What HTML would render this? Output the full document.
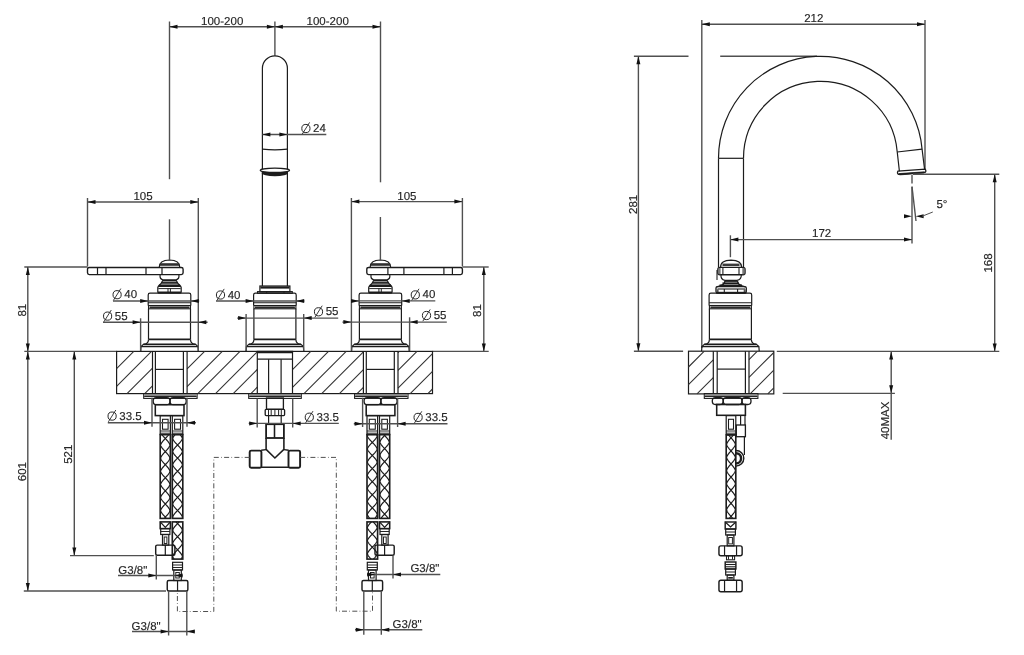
<!DOCTYPE html>
<html><head><meta charset="utf-8"><style>
html,body{margin:0;padding:0;background:#fff;}
svg{display:block;filter:grayscale(1);}
text{font-family:"Liberation Sans",sans-serif;fill:#262626;stroke:#262626;stroke-width:0.15px;}
</style></head><body>
<svg width="1024" height="655" viewBox="0 0 1024 655" text-rendering="geometricPrecision">
<rect width="1024" height="655" fill="#fff"/>
<line x1="169.5" y1="21.5" x2="169.5" y2="179.2" stroke="#505050" stroke-width="1.4"/>
<line x1="274.9" y1="21.5" x2="274.9" y2="55.8" stroke="#505050" stroke-width="1.4"/>
<line x1="380.5" y1="21.5" x2="380.5" y2="182.3" stroke="#505050" stroke-width="1.4"/>
<line x1="169.5" y1="26.7" x2="380.5" y2="26.7" stroke="#505050" stroke-width="1.4"/>
<polygon points="169.5,26.7 177.5,24.7 177.5,28.7" fill="#111"/>
<polygon points="274.9,26.7 266.9,24.7 266.9,28.7" fill="#111"/>
<polygon points="274.9,26.7 282.9,24.7 282.9,28.7" fill="#111"/>
<polygon points="380.5,26.7 372.5,24.7 372.5,28.7" fill="#111"/>
<text x="222.2" y="24.6" text-anchor="middle" font-size="11.5">100-200</text>
<text x="327.7" y="24.6" text-anchor="middle" font-size="11.5">100-200</text>
<path d="M262.4,286 L262.4,68.3 A12.5,12.5 0 0 1 287.4,68.3 L287.4,286" fill="none" stroke="#1c1c1c" stroke-width="1.2"/>
<path d="M262.4,149.2 Q274.9,150.6 287.4,149.2" fill="none" stroke="#1c1c1c" stroke-width="1.2"/>
<ellipse cx="274.9" cy="173.0" rx="13.2" ry="3.3" fill="#1c1c1c"/>
<ellipse cx="274.9" cy="170.3" rx="14.6" ry="2.2" fill="#fff" stroke="#1c1c1c" stroke-width="1.3"/>
<line x1="262.4" y1="134.5" x2="326.3" y2="134.5" stroke="#505050" stroke-width="1.4"/>
<polygon points="262.4,134.5 270.4,132.5 270.4,136.5" fill="#111"/>
<polygon points="287.4,134.5 279.4,132.5 279.4,136.5" fill="#111"/>
<circle cx="305.9" cy="128.5" r="4.1" fill="none" stroke="#262626" stroke-width="1.0"/>
<line x1="302.2" y1="134.2" x2="309.6" y2="122.4" stroke="#262626" stroke-width="0.9"/>
<text x="313.1" y="132" text-anchor="start" font-size="11.5">24</text>
<rect x="87.5" y="267.5" width="95.6" height="7.1" rx="1.8" fill="none" stroke="#1c1c1c" stroke-width="1.38"/>
<line x1="97.5" y1="267.5" x2="97.5" y2="274.6" stroke="#1c1c1c" stroke-width="1.2"/>
<line x1="106" y1="267.5" x2="106" y2="274.6" stroke="#1c1c1c" stroke-width="1.2"/>
<line x1="146" y1="267.5" x2="146" y2="274.6" stroke="#1c1c1c" stroke-width="1.2"/>
<line x1="162" y1="267.5" x2="162" y2="274.6" stroke="#1c1c1c" stroke-width="1.2"/>
<path d="M159.3,267 Q159.3,260.2 169.5,260.0 Q179.7,260.2 179.7,267" fill="none" stroke="#1c1c1c" stroke-width="1.2"/>
<rect x="159.9" y="263.2" width="19.2" height="2.6" fill="#2e2e2e"/>
<path d="M160.1,275 Q159.5,279 162.9,279.8 L176.1,279.8 Q179.5,279 178.9,275" fill="none" stroke="#1c1c1c" stroke-width="1.2"/>
<line x1="162.9" y1="280.7" x2="176.1" y2="280.7" stroke="#1c1c1c" stroke-width="1.56"/>
<path d="M162.9,280.2 Q161.7,283.5 158.1,286.4 M176.1,280.2 Q177.3,283.5 180.9,286.4" fill="none" stroke="#1c1c1c" stroke-width="1.2"/>
<line x1="161.5" y1="282.9" x2="177.5" y2="282.9" stroke="#1c1c1c" stroke-width="1.68"/>
<line x1="158.9" y1="285.3" x2="180.1" y2="285.3" stroke="#1c1c1c" stroke-width="1.8"/>
<rect x="157.8" y="286.4" width="23.4" height="6.4" rx="1" fill="none" stroke="#1c1c1c" stroke-width="1.2"/>
<line x1="158.3" y1="288.6" x2="180.7" y2="288.6" stroke="#1c1c1c" stroke-width="0.96"/>
<line x1="168" y1="288.6" x2="168" y2="292.8" stroke="#1c1c1c" stroke-width="0.96"/>
<line x1="170.4" y1="288.6" x2="170.4" y2="292.8" stroke="#1c1c1c" stroke-width="0.96"/>
<line x1="157.8" y1="292.4" x2="181.2" y2="292.4" stroke="#1c1c1c" stroke-width="1.8"/>
<path d="M148.2,305.4 L148.2,295 Q148.2,293.2 150.0,293.2 L189.0,293.2 Q190.8,293.2 190.8,295 L190.8,305.4" fill="none" stroke="#1c1c1c" stroke-width="1.2"/>
<line x1="148.2" y1="302.8" x2="190.8" y2="302.8" stroke="#1c1c1c" stroke-width="1.08"/>
<rect x="148.5" y="305.5" width="42" height="3.3" rx="0" fill="none" stroke="#1c1c1c" stroke-width="1.08"/>
<rect x="149.5" y="306.4" width="40" height="2" fill="#2a2a2a"/>
<line x1="148.5" y1="308.8" x2="148.5" y2="339.4" stroke="#1c1c1c" stroke-width="1.2"/>
<line x1="190.5" y1="308.8" x2="190.5" y2="339.4" stroke="#1c1c1c" stroke-width="1.2"/>
<path d="M148.5,339.4 Q148.5,343.8 143.5,344.4 L141.0,346.5 L140.7,351.3 M190.5,339.4 Q190.5,343.8 195.5,344.4 L198.0,346.5 L198.3,351.3" fill="none" stroke="#1c1c1c" stroke-width="1.2"/>
<line x1="148.5" y1="339.4" x2="190.5" y2="339.4" stroke="#1c1c1c" stroke-width="1.8"/>
<line x1="143.5" y1="344.4" x2="195.5" y2="344.4" stroke="#1c1c1c" stroke-width="1.68"/>
<line x1="141" y1="346.6" x2="198" y2="346.6" stroke="#1c1c1c" stroke-width="1.44"/>
<rect x="366.8" y="267.5" width="95.6" height="7.1" rx="1.8" fill="none" stroke="#1c1c1c" stroke-width="1.38"/>
<line x1="452.4" y1="267.5" x2="452.4" y2="274.6" stroke="#1c1c1c" stroke-width="1.2"/>
<line x1="443.9" y1="267.5" x2="443.9" y2="274.6" stroke="#1c1c1c" stroke-width="1.2"/>
<line x1="403.9" y1="267.5" x2="403.9" y2="274.6" stroke="#1c1c1c" stroke-width="1.2"/>
<line x1="387.9" y1="267.5" x2="387.9" y2="274.6" stroke="#1c1c1c" stroke-width="1.2"/>
<path d="M370.2,267 Q370.2,260.2 380.4,260.0 Q390.59999999999997,260.2 390.59999999999997,267" fill="none" stroke="#1c1c1c" stroke-width="1.2"/>
<rect x="370.8" y="263.2" width="19.2" height="2.6" fill="#2e2e2e"/>
<path d="M371.0,275 Q370.4,279 373.79999999999995,279.8 L387.0,279.8 Q390.4,279 389.79999999999995,275" fill="none" stroke="#1c1c1c" stroke-width="1.2"/>
<line x1="373.8" y1="280.7" x2="387" y2="280.7" stroke="#1c1c1c" stroke-width="1.56"/>
<path d="M373.79999999999995,280.2 Q372.59999999999997,283.5 369.0,286.4 M387.0,280.2 Q388.2,283.5 391.79999999999995,286.4" fill="none" stroke="#1c1c1c" stroke-width="1.2"/>
<line x1="372.4" y1="282.9" x2="388.4" y2="282.9" stroke="#1c1c1c" stroke-width="1.68"/>
<line x1="369.8" y1="285.3" x2="391" y2="285.3" stroke="#1c1c1c" stroke-width="1.8"/>
<rect x="368.7" y="286.4" width="23.4" height="6.4" rx="1" fill="none" stroke="#1c1c1c" stroke-width="1.2"/>
<line x1="369.2" y1="288.6" x2="391.6" y2="288.6" stroke="#1c1c1c" stroke-width="0.96"/>
<line x1="378.9" y1="288.6" x2="378.9" y2="292.8" stroke="#1c1c1c" stroke-width="0.96"/>
<line x1="381.3" y1="288.6" x2="381.3" y2="292.8" stroke="#1c1c1c" stroke-width="0.96"/>
<line x1="368.7" y1="292.4" x2="392.1" y2="292.4" stroke="#1c1c1c" stroke-width="1.8"/>
<path d="M359.09999999999997,305.4 L359.09999999999997,295 Q359.09999999999997,293.2 360.9,293.2 L399.9,293.2 Q401.7,293.2 401.7,295 L401.7,305.4" fill="none" stroke="#1c1c1c" stroke-width="1.2"/>
<line x1="359.1" y1="302.8" x2="401.7" y2="302.8" stroke="#1c1c1c" stroke-width="1.08"/>
<rect x="359.4" y="305.5" width="42" height="3.3" rx="0" fill="none" stroke="#1c1c1c" stroke-width="1.08"/>
<rect x="360.4" y="306.4" width="40" height="2" fill="#2a2a2a"/>
<line x1="359.4" y1="308.8" x2="359.4" y2="339.4" stroke="#1c1c1c" stroke-width="1.2"/>
<line x1="401.4" y1="308.8" x2="401.4" y2="339.4" stroke="#1c1c1c" stroke-width="1.2"/>
<path d="M359.4,339.4 Q359.4,343.8 354.4,344.4 L351.9,346.5 L351.59999999999997,351.3 M401.4,339.4 Q401.4,343.8 406.4,344.4 L408.9,346.5 L409.2,351.3" fill="none" stroke="#1c1c1c" stroke-width="1.2"/>
<line x1="359.4" y1="339.4" x2="401.4" y2="339.4" stroke="#1c1c1c" stroke-width="1.8"/>
<line x1="354.4" y1="344.4" x2="406.4" y2="344.4" stroke="#1c1c1c" stroke-width="1.68"/>
<line x1="351.9" y1="346.6" x2="408.9" y2="346.6" stroke="#1c1c1c" stroke-width="1.44"/>
<rect x="259.9" y="286" width="30" height="6" rx="0" fill="none" stroke="#1c1c1c" stroke-width="1.2"/>
<rect x="260.4" y="286.4" width="29" height="2.2" fill="#1c1c1c"/>
<rect x="257.5" y="291.6" width="34.8" height="1.7" rx="0" fill="none" stroke="#1c1c1c" stroke-width="1.08"/>
<line x1="266.7" y1="291.6" x2="266.7" y2="293.3" stroke="#1c1c1c" stroke-width="0.96"/>
<line x1="284" y1="291.6" x2="284" y2="293.3" stroke="#1c1c1c" stroke-width="0.96"/>
<path d="M253.59999999999997,305.4 L253.59999999999997,295 Q253.59999999999997,293.2 255.39999999999998,293.2 L294.4,293.2 Q296.2,293.2 296.2,295 L296.2,305.4" fill="none" stroke="#1c1c1c" stroke-width="1.2"/>
<line x1="253.6" y1="302.8" x2="296.2" y2="302.8" stroke="#1c1c1c" stroke-width="1.08"/>
<rect x="253.9" y="305.5" width="42" height="3.3" rx="0" fill="none" stroke="#1c1c1c" stroke-width="1.08"/>
<rect x="254.9" y="306.4" width="40" height="2" fill="#2a2a2a"/>
<line x1="253.9" y1="308.8" x2="253.9" y2="339.4" stroke="#1c1c1c" stroke-width="1.2"/>
<line x1="295.9" y1="308.8" x2="295.9" y2="339.4" stroke="#1c1c1c" stroke-width="1.2"/>
<path d="M253.89999999999998,339.4 Q253.89999999999998,343.8 248.89999999999998,344.4 L246.39999999999998,346.5 L246.09999999999997,351.3 M295.9,339.4 Q295.9,343.8 300.9,344.4 L303.4,346.5 L303.7,351.3" fill="none" stroke="#1c1c1c" stroke-width="1.2"/>
<line x1="253.9" y1="339.4" x2="295.9" y2="339.4" stroke="#1c1c1c" stroke-width="1.8"/>
<line x1="248.9" y1="344.4" x2="300.9" y2="344.4" stroke="#1c1c1c" stroke-width="1.68"/>
<line x1="246.4" y1="346.6" x2="303.4" y2="346.6" stroke="#1c1c1c" stroke-width="1.44"/>
<line x1="87.5" y1="198" x2="87.5" y2="266.5" stroke="#505050" stroke-width="1.4"/>
<line x1="198.3" y1="198" x2="198.3" y2="351" stroke="#505050" stroke-width="1.4"/>
<line x1="87.5" y1="202" x2="198.3" y2="202" stroke="#505050" stroke-width="1.4"/>
<polygon points="87.5,202 95.5,200 95.5,204" fill="#111"/>
<polygon points="198.3,202 190.3,200 190.3,204" fill="#111"/>
<text x="143" y="200.2" text-anchor="middle" font-size="11.5">105</text>
<line x1="351.4" y1="198" x2="351.4" y2="351" stroke="#505050" stroke-width="1.4"/>
<line x1="462.4" y1="198" x2="462.4" y2="266.5" stroke="#505050" stroke-width="1.4"/>
<line x1="351.4" y1="201.6" x2="462.4" y2="201.6" stroke="#505050" stroke-width="1.4"/>
<polygon points="351.4,201.6 359.4,199.6 359.4,203.6" fill="#111"/>
<polygon points="462.4,201.6 454.4,199.6 454.4,203.6" fill="#111"/>
<text x="406.9" y="199.8" text-anchor="middle" font-size="11.5">105</text>
<line x1="169.5" y1="219.3" x2="169.5" y2="260" stroke="#505050" stroke-width="1.4"/>
<line x1="380.4" y1="217" x2="380.4" y2="260" stroke="#505050" stroke-width="1.4"/>
<line x1="24.3" y1="267" x2="87.5" y2="267" stroke="#505050" stroke-width="1.4"/>
<line x1="27.8" y1="267" x2="27.8" y2="351.4" stroke="#505050" stroke-width="1.4"/>
<polygon points="27.8,267 25.8,275 29.8,275" fill="#111"/>
<polygon points="27.8,351.4 25.8,343.4 29.8,343.4" fill="#111"/>
<text transform="translate(26.2,310.2) rotate(-90)" text-anchor="middle" font-size="11.5">81</text>
<line x1="462.4" y1="267" x2="488.7" y2="267" stroke="#505050" stroke-width="1.4"/>
<line x1="483.8" y1="267" x2="483.8" y2="351.4" stroke="#505050" stroke-width="1.4"/>
<polygon points="483.8,267 481.8,275 485.8,275" fill="#111"/>
<polygon points="483.8,351.4 481.8,343.4 485.8,343.4" fill="#111"/>
<text transform="translate(481,310.5) rotate(-90)" text-anchor="middle" font-size="11.5">81</text>
<circle cx="117.1" cy="294.7" r="4.1" fill="none" stroke="#262626" stroke-width="1.0"/>
<line x1="113.4" y1="300.4" x2="120.8" y2="288.6" stroke="#262626" stroke-width="0.9"/>
<text x="124.3" y="298.2" text-anchor="start" font-size="11.5">40</text>
<line x1="113" y1="301" x2="199.2" y2="301" stroke="#505050" stroke-width="1.4"/>
<polygon points="148.2,301 140.2,299 140.2,303" fill="#111"/>
<polygon points="190.8,301 198.8,299 198.8,303" fill="#111"/>
<circle cx="107.6" cy="316.1" r="4.1" fill="none" stroke="#262626" stroke-width="1.0"/>
<line x1="103.9" y1="321.8" x2="111.3" y2="310" stroke="#262626" stroke-width="0.9"/>
<text x="114.8" y="319.6" text-anchor="start" font-size="11.5">55</text>
<line x1="103" y1="322.3" x2="207.6" y2="322.3" stroke="#505050" stroke-width="1.4"/>
<polygon points="140.6,322.3 132.6,320.3 132.6,324.3" fill="#111"/>
<polygon points="198.3,322.3 206.3,320.3 206.3,324.3" fill="#111"/>
<line x1="140.6" y1="318.3" x2="140.6" y2="351.3" stroke="#505050" stroke-width="1.4"/>
<circle cx="220.5" cy="295" r="4.1" fill="none" stroke="#262626" stroke-width="1.0"/>
<line x1="216.8" y1="300.7" x2="224.2" y2="288.9" stroke="#262626" stroke-width="0.9"/>
<text x="227.7" y="298.5" text-anchor="start" font-size="11.5">40</text>
<line x1="216" y1="301" x2="304.4" y2="301" stroke="#505050" stroke-width="1.4"/>
<polygon points="253.6,301 245.6,299 245.6,303" fill="#111"/>
<polygon points="296.2,301 304.2,299 304.2,303" fill="#111"/>
<circle cx="318.5" cy="311.8" r="4.1" fill="none" stroke="#262626" stroke-width="1.0"/>
<line x1="314.8" y1="317.5" x2="322.2" y2="305.7" stroke="#262626" stroke-width="0.9"/>
<text x="325.7" y="315.3" text-anchor="start" font-size="11.5">55</text>
<line x1="237.2" y1="318.1" x2="338.2" y2="318.1" stroke="#505050" stroke-width="1.4"/>
<polygon points="246.1,318.1 238.1,316.1 238.1,320.1" fill="#111"/>
<polygon points="303.7,318.1 311.7,316.1 311.7,320.1" fill="#111"/>
<line x1="246.1" y1="314" x2="246.1" y2="351.2" stroke="#505050" stroke-width="1.4"/>
<line x1="303.7" y1="314" x2="303.7" y2="351.2" stroke="#505050" stroke-width="1.4"/>
<circle cx="415.3" cy="294.9" r="4.1" fill="none" stroke="#262626" stroke-width="1.0"/>
<line x1="411.6" y1="300.6" x2="419" y2="288.8" stroke="#262626" stroke-width="0.9"/>
<text x="422.5" y="298.4" text-anchor="start" font-size="11.5">40</text>
<line x1="351.4" y1="300.9" x2="435.3" y2="300.9" stroke="#505050" stroke-width="1.4"/>
<polygon points="359.1,300.9 351.1,298.9 351.1,302.9" fill="#111"/>
<polygon points="401.7,300.9 409.7,298.9 409.7,302.9" fill="#111"/>
<circle cx="426.5" cy="315.5" r="4.1" fill="none" stroke="#262626" stroke-width="1.0"/>
<line x1="422.8" y1="321.2" x2="430.2" y2="309.4" stroke="#262626" stroke-width="0.9"/>
<text x="433.7" y="319" text-anchor="start" font-size="11.5">55</text>
<line x1="342.4" y1="322.1" x2="446.8" y2="322.1" stroke="#505050" stroke-width="1.4"/>
<polygon points="351.4,322.1 343.4,320.1 343.4,324.1" fill="#111"/>
<polygon points="409.6,322.1 417.6,320.1 417.6,324.1" fill="#111"/>
<line x1="409.6" y1="317.3" x2="409.6" y2="351.2" stroke="#505050" stroke-width="1.4"/>
<line x1="24.3" y1="351.4" x2="116.6" y2="351.4" stroke="#505050" stroke-width="1.4"/>
<line x1="432.5" y1="351.4" x2="488.7" y2="351.4" stroke="#505050" stroke-width="1.4"/>
<rect x="116.6" y="351.4" width="315.9" height="42.2" rx="0" fill="none" stroke="#1c1c1c" stroke-width="1.2"/>
<path d="M116.6,368.6L133.8,351.4M116.6,386.3L151.5,351.4M127,393.6L152.5,368.1M144.7,393.6L152.5,385.8M187.1,368.9L204.6,351.4M187.1,386.6L222.3,351.4M197.8,393.6L240,351.4M215.5,393.6L257.3,351.8M233.2,393.6L257.3,369.5M250.9,393.6L257.3,387.2M292.5,352L293.1,351.4M292.5,369.7L310.8,351.4M292.5,387.4L328.5,351.4M304,393.6L346.2,351.4M321.7,393.6L363.4,351.9M339.4,393.6L363.4,369.6M357.1,393.6L363.4,387.3M398,352.7L399.3,351.4M398,370.4L417,351.4M398,388.1L432.5,353.6M410.2,393.6L432.5,371.3M427.9,393.6L432.5,389" fill="none" stroke="#333" stroke-width="1.08"/>
<line x1="152.5" y1="351.4" x2="152.5" y2="393.6" stroke="#1c1c1c" stroke-width="1.2"/>
<line x1="155.4" y1="351.4" x2="155.4" y2="393.6" stroke="#1c1c1c" stroke-width="1.2"/>
<line x1="183.4" y1="351.4" x2="183.4" y2="393.6" stroke="#1c1c1c" stroke-width="1.2"/>
<line x1="187.1" y1="351.4" x2="187.1" y2="393.6" stroke="#1c1c1c" stroke-width="1.2"/>
<line x1="155.4" y1="369.4" x2="183.4" y2="369.4" stroke="#1c1c1c" stroke-width="1.2"/>
<line x1="363.4" y1="351.4" x2="363.4" y2="393.6" stroke="#1c1c1c" stroke-width="1.2"/>
<line x1="366.3" y1="351.4" x2="366.3" y2="393.6" stroke="#1c1c1c" stroke-width="1.2"/>
<line x1="394.3" y1="351.4" x2="394.3" y2="393.6" stroke="#1c1c1c" stroke-width="1.2"/>
<line x1="398" y1="351.4" x2="398" y2="393.6" stroke="#1c1c1c" stroke-width="1.2"/>
<line x1="366.3" y1="369.4" x2="394.3" y2="369.4" stroke="#1c1c1c" stroke-width="1.2"/>
<rect x="257.3" y="351.4" width="35.2" height="42.2" rx="0" fill="none" stroke="#1c1c1c" stroke-width="1.2"/>
<line x1="257.3" y1="359.2" x2="292.5" y2="359.2" stroke="#1c1c1c" stroke-width="1.2"/>
<line x1="257.3" y1="352.4" x2="292.5" y2="352.4" stroke="#1c1c1c" stroke-width="1.8"/>
<line x1="268.6" y1="359.2" x2="268.6" y2="393.6" stroke="#1c1c1c" stroke-width="1.2"/>
<line x1="281.1" y1="359.2" x2="281.1" y2="393.6" stroke="#1c1c1c" stroke-width="1.2"/>
<rect x="143.7" y="393.6" width="53.4" height="4.8" rx="0" fill="none" stroke="#1c1c1c" stroke-width="1.08"/>
<rect x="144.2" y="394" width="52.4" height="2" fill="#888"/>
<line x1="144.2" y1="396.5" x2="196.6" y2="396.5" stroke="#1c1c1c" stroke-width="0.96"/>
<rect x="153.2" y="397.6" width="16.8" height="7.1" rx="3.2" fill="none" stroke="#1c1c1c" stroke-width="1.32"/>
<rect x="170" y="397.6" width="16.2" height="7.1" rx="3.2" fill="none" stroke="#1c1c1c" stroke-width="1.32"/>
<rect x="155.3" y="404.7" width="28.7" height="10.9" rx="0" fill="none" stroke="#1c1c1c" stroke-width="1.56"/>
<rect x="160.2" y="415.6" width="10.2" height="19" rx="0" fill="none" stroke="#1c1c1c" stroke-width="1.2"/>
<rect x="162.5" y="419.3" width="5.6" height="9.9" rx="0" fill="none" stroke="#1c1c1c" stroke-width="1.08"/>
<line x1="160.2" y1="431" x2="170.4" y2="431" stroke="#1c1c1c" stroke-width="0.96"/>
<line x1="160.2" y1="433.2" x2="170.4" y2="433.2" stroke="#1c1c1c" stroke-width="0.96"/>
<rect x="172.3" y="415.6" width="10.5" height="19" rx="0" fill="none" stroke="#1c1c1c" stroke-width="1.2"/>
<rect x="174.6" y="419.3" width="5.9" height="9.9" rx="0" fill="none" stroke="#1c1c1c" stroke-width="1.08"/>
<line x1="172.3" y1="431" x2="182.8" y2="431" stroke="#1c1c1c" stroke-width="0.96"/>
<line x1="172.3" y1="433.2" x2="182.8" y2="433.2" stroke="#1c1c1c" stroke-width="0.96"/>
<path d="M161.94,434.6 L162.38,435.2 L162.86,435.8 L163.37,436.4 L163.91,437 L164.46,437.6 L165.02,438.2 L165.58,438.8 L166.14,439.4 L166.69,440 L167.23,440.6 L167.74,441.2 L168.22,441.8 L168.66,442.4 L169.06,443 L169.43,443.6 L169.74,444.2 L170,444.8 L169.96,445.4 L169.69,446 L169.37,446.6 L169,447.2 L168.59,447.8 L168.14,448.4 L167.65,449 L167.14,449.6 L166.6,450.2 L166.05,450.8 L165.49,451.4 L164.92,452 L164.36,452.6 L163.82,453.2 L163.29,453.8 L162.78,454.4 L162.31,455 L161.87,455.6 L161.47,456.2 L161.12,456.8 L160.81,457.4 L160.56,458 L160.68,458.6 L160.96,459.2 L161.29,459.8 L161.67,460.4 L162.08,461 L162.54,461.6 L163.03,462.2 L163.55,462.8 L164.09,463.4 L164.64,464 L165.21,464.6 L165.77,465.2 L166.33,465.8 L166.87,466.4 L167.4,467 L167.9,467.6 L168.37,468.2 L168.8,468.8 L169.19,469.4 L169.53,470 L169.83,470.6 L170.08,471.2 L169.88,471.8 L169.59,472.4 L169.25,473 L168.87,473.6 L168.44,474.2 L167.98,474.8 L167.49,475.4 L166.96,476 L166.42,476.6 L165.86,477.2 L165.3,477.8 L164.74,478.4 L164.18,479 L163.64,479.6 L163.11,480.2 L162.62,480.8 L162.16,481.4 L161.73,482 L161.35,482.6 L161.01,483.2 L160.72,483.8 L160.52,484.4 L160.77,485 L161.07,485.6 L161.41,486.2 L161.8,486.8 L162.23,487.4 L162.7,488 L163.2,488.6 L163.73,489.2 L164.27,489.8 L164.83,490.4 L165.39,491 L165.96,491.6 L166.51,492.2 L167.05,492.8 L167.57,493.4 L168.06,494 L168.52,494.6 L168.93,495.2 L169.31,495.8 L169.64,496.4 L169.92,497 L170.04,497.6 L169.79,498.2 L169.48,498.8 L169.13,499.4 L168.73,500 L168.29,500.6 L167.82,501.2 L167.31,501.8 L166.78,502.4 L166.24,503 L165.68,503.6 L165.11,504.2 L164.55,504.8 L164,505.4 L163.46,506 L162.95,506.6 L162.46,507.2 L162.01,507.8 L161.6,508.4 L161.23,509 L160.91,509.6 L160.64,510.2 L160.6,510.8 L160.86,511.4 L161.17,512 L161.54,512.6 L161.94,513.2 L162.38,513.8 L162.86,514.4 L163.37,515 L163.91,515.6 L164.46,516.2 L165.02,516.8 L165.58,517.4 L166.14,518 M168.66,434.6 L168.22,435.2 L167.74,435.8 L167.23,436.4 L166.69,437 L166.14,437.6 L165.58,438.2 L165.02,438.8 L164.46,439.4 L163.91,440 L163.37,440.6 L162.86,441.2 L162.38,441.8 L161.94,442.4 L161.54,443 L161.17,443.6 L160.86,444.2 L160.6,444.8 L160.64,445.4 L160.91,446 L161.23,446.6 L161.6,447.2 L162.01,447.8 L162.46,448.4 L162.95,449 L163.46,449.6 L164,450.2 L164.55,450.8 L165.11,451.4 L165.68,452 L166.24,452.6 L166.78,453.2 L167.31,453.8 L167.82,454.4 L168.29,455 L168.73,455.6 L169.13,456.2 L169.48,456.8 L169.79,457.4 L170.04,458 L169.92,458.6 L169.64,459.2 L169.31,459.8 L168.93,460.4 L168.52,461 L168.06,461.6 L167.57,462.2 L167.05,462.8 L166.51,463.4 L165.96,464 L165.39,464.6 L164.83,465.2 L164.27,465.8 L163.73,466.4 L163.2,467 L162.7,467.6 L162.23,468.2 L161.8,468.8 L161.41,469.4 L161.07,470 L160.77,470.6 L160.52,471.2 L160.72,471.8 L161.01,472.4 L161.35,473 L161.73,473.6 L162.16,474.2 L162.62,474.8 L163.11,475.4 L163.64,476 L164.18,476.6 L164.74,477.2 L165.3,477.8 L165.86,478.4 L166.42,479 L166.96,479.6 L167.49,480.2 L167.98,480.8 L168.44,481.4 L168.87,482 L169.25,482.6 L169.59,483.2 L169.88,483.8 L170.08,484.4 L169.83,485 L169.53,485.6 L169.19,486.2 L168.8,486.8 L168.37,487.4 L167.9,488 L167.4,488.6 L166.87,489.2 L166.33,489.8 L165.77,490.4 L165.21,491 L164.64,491.6 L164.09,492.2 L163.55,492.8 L163.03,493.4 L162.54,494 L162.08,494.6 L161.67,495.2 L161.29,495.8 L160.96,496.4 L160.68,497 L160.56,497.6 L160.81,498.2 L161.12,498.8 L161.47,499.4 L161.87,500 L162.31,500.6 L162.78,501.2 L163.29,501.8 L163.82,502.4 L164.36,503 L164.92,503.6 L165.49,504.2 L166.05,504.8 L166.6,505.4 L167.14,506 L167.65,506.6 L168.14,507.2 L168.59,507.8 L169,508.4 L169.37,509 L169.69,509.6 L169.96,510.2 L170,510.8 L169.74,511.4 L169.43,512 L169.06,512.6 L168.66,513.2 L168.22,513.8 L167.74,514.4 L167.23,515 L166.69,515.6 L166.14,516.2 L165.58,516.8 L165.02,517.4 L164.46,518" fill="none" stroke="#1a1a1a" stroke-width="1.2"/>
<rect x="160.2" y="434.6" width="10.2" height="83.8" rx="0" fill="none" stroke="#1c1c1c" stroke-width="1.62"/>
<path d="M180.06,434.6 L180.56,435.2 L181.02,435.8 L181.43,436.4 L181.8,437 L182.13,437.6 L182.4,438.2 L182.36,438.8 L182.08,439.4 L181.75,440 L181.37,440.6 L180.94,441.2 L180.48,441.8 L179.98,442.4 L179.45,443 L178.89,443.6 L178.32,444.2 L177.74,444.8 L177.16,445.4 L176.58,446 L176.02,446.6 L175.47,447.2 L174.95,447.8 L174.46,448.4 L174.01,449 L173.6,449.6 L173.24,450.2 L172.92,450.8 L172.66,451.4 L172.78,452 L173.07,452.6 L173.41,453.2 L173.8,453.8 L174.23,454.4 L174.7,455 L175.21,455.6 L175.74,456.2 L176.3,456.8 L176.87,457.4 L177.45,458 L178.03,458.6 L178.61,459.2 L179.17,459.8 L179.72,460.4 L180.23,461 L180.71,461.6 L181.16,462.2 L181.56,462.8 L181.92,463.4 L182.22,464 L182.48,464.6 L182.27,465.2 L181.97,465.8 L181.62,466.4 L181.23,467 L180.79,467.6 L180.31,468.2 L179.8,468.8 L179.27,469.4 L178.71,470 L178.13,470.6 L177.55,471.2 L176.97,471.8 L176.39,472.4 L175.83,473 L175.3,473.6 L174.79,474.2 L174.31,474.8 L173.87,475.4 L173.48,476 L173.13,476.6 L172.83,477.2 L172.62,477.8 L172.88,478.4 L173.18,479 L173.54,479.6 L173.94,480.2 L174.39,480.8 L174.87,481.4 L175.38,482 L175.93,482.6 L176.49,483.2 L177.07,483.8 L177.65,484.4 L178.23,485 L178.8,485.6 L179.36,486.2 L179.89,486.8 L180.4,487.4 L180.87,488 L181.3,488.6 L181.69,489.2 L182.03,489.8 L182.32,490.4 L182.44,491 L182.18,491.6 L181.86,492.2 L181.5,492.8 L181.09,493.4 L180.64,494 L180.15,494.6 L179.63,495.2 L179.08,495.8 L178.52,496.4 L177.94,497 L177.36,497.6 L176.78,498.2 L176.21,498.8 L175.65,499.4 L175.12,500 L174.62,500.6 L174.16,501.2 L173.73,501.8 L173.35,502.4 L173.02,503 L172.74,503.6 L172.7,504.2 L172.97,504.8 L173.3,505.4 L173.67,506 L174.08,506.6 L174.54,507.2 L175.04,507.8 L175.56,508.4 L176.11,509 L176.68,509.6 L177.26,510.2 L177.84,510.8 L178.42,511.4 L178.99,512 L179.54,512.6 L180.06,513.2 L180.56,513.8 L181.02,514.4 L181.43,515 L181.8,515.6 L182.13,516.2 L182.4,516.8 L182.36,517.4 L182.08,518 M175.04,434.6 L174.54,435.2 L174.08,435.8 L173.67,436.4 L173.3,437 L172.97,437.6 L172.7,438.2 L172.74,438.8 L173.02,439.4 L173.35,440 L173.73,440.6 L174.16,441.2 L174.62,441.8 L175.12,442.4 L175.65,443 L176.21,443.6 L176.78,444.2 L177.36,444.8 L177.94,445.4 L178.52,446 L179.08,446.6 L179.63,447.2 L180.15,447.8 L180.64,448.4 L181.09,449 L181.5,449.6 L181.86,450.2 L182.18,450.8 L182.44,451.4 L182.32,452 L182.03,452.6 L181.69,453.2 L181.3,453.8 L180.87,454.4 L180.4,455 L179.89,455.6 L179.36,456.2 L178.8,456.8 L178.23,457.4 L177.65,458 L177.07,458.6 L176.49,459.2 L175.93,459.8 L175.38,460.4 L174.87,461 L174.39,461.6 L173.94,462.2 L173.54,462.8 L173.18,463.4 L172.88,464 L172.62,464.6 L172.83,465.2 L173.13,465.8 L173.48,466.4 L173.87,467 L174.31,467.6 L174.79,468.2 L175.3,468.8 L175.83,469.4 L176.39,470 L176.97,470.6 L177.55,471.2 L178.13,471.8 L178.71,472.4 L179.27,473 L179.8,473.6 L180.31,474.2 L180.79,474.8 L181.23,475.4 L181.62,476 L181.97,476.6 L182.27,477.2 L182.48,477.8 L182.22,478.4 L181.92,479 L181.56,479.6 L181.16,480.2 L180.71,480.8 L180.23,481.4 L179.72,482 L179.17,482.6 L178.61,483.2 L178.03,483.8 L177.45,484.4 L176.87,485 L176.3,485.6 L175.74,486.2 L175.21,486.8 L174.7,487.4 L174.23,488 L173.8,488.6 L173.41,489.2 L173.07,489.8 L172.78,490.4 L172.66,491 L172.92,491.6 L173.24,492.2 L173.6,492.8 L174.01,493.4 L174.46,494 L174.95,494.6 L175.47,495.2 L176.02,495.8 L176.58,496.4 L177.16,497 L177.74,497.6 L178.32,498.2 L178.89,498.8 L179.45,499.4 L179.98,500 L180.48,500.6 L180.94,501.2 L181.37,501.8 L181.75,502.4 L182.08,503 L182.36,503.6 L182.4,504.2 L182.13,504.8 L181.8,505.4 L181.43,506 L181.02,506.6 L180.56,507.2 L180.06,507.8 L179.54,508.4 L178.99,509 L178.42,509.6 L177.84,510.2 L177.26,510.8 L176.68,511.4 L176.11,512 L175.56,512.6 L175.04,513.2 L174.54,513.8 L174.08,514.4 L173.67,515 L173.3,515.6 L172.97,516.2 L172.7,516.8 L172.74,517.4 L173.02,518" fill="none" stroke="#1a1a1a" stroke-width="1.2"/>
<rect x="172.3" y="434.6" width="10.5" height="83.8" rx="0" fill="none" stroke="#1c1c1c" stroke-width="1.62"/>
<rect x="160.2" y="521.9" width="10.2" height="6.7" rx="0" fill="none" stroke="#1c1c1c" stroke-width="1.56"/>
<path d="M160.2,521.9 L165.3,527.4 L170.4,521.9" fill="none" stroke="#1c1c1c" stroke-width="1.32"/>
<rect x="160.7" y="528.6" width="9.2" height="5.9" rx="0" fill="none" stroke="#1c1c1c" stroke-width="1.2"/>
<line x1="160.7" y1="531.5" x2="169.9" y2="531.5" stroke="#1c1c1c" stroke-width="0.96"/>
<rect x="162.5" y="534.5" width="6.3" height="10.6" rx="0" fill="none" stroke="#1c1c1c" stroke-width="1.2"/>
<rect x="164.2" y="537" width="2.7" height="6.5" rx="0" fill="none" stroke="#1c1c1c" stroke-width="0.96"/>
<rect x="155.7" y="545.1" width="19.2" height="10.2" rx="1.5" fill="none" stroke="#1c1c1c" stroke-width="1.44"/>
<line x1="165.3" y1="545.1" x2="165.3" y2="555.3" stroke="#1c1c1c" stroke-width="1.2"/>
<path d="M179.17,521.9 L178.61,522.5 L178.03,523.1 L177.45,523.7 L176.87,524.3 L176.3,524.9 L175.74,525.5 L175.21,526.1 L174.7,526.7 L174.23,527.3 L173.8,527.9 L173.41,528.5 L173.07,529.1 L172.78,529.7 L172.66,530.3 L172.92,530.9 L173.24,531.5 L173.6,532.1 L174.01,532.7 L174.46,533.3 L174.95,533.9 L175.47,534.5 L176.02,535.1 L176.58,535.7 L177.16,536.3 L177.74,536.9 L178.32,537.5 L178.89,538.1 L179.45,538.7 L179.98,539.3 L180.48,539.9 L180.94,540.5 L181.37,541.1 L181.75,541.7 L182.08,542.3 L182.36,542.9 L182.4,543.5 L182.13,544.1 L181.8,544.7 L181.43,545.3 L181.02,545.9 L180.56,546.5 L180.06,547.1 L179.54,547.7 L178.99,548.3 L178.42,548.9 L177.84,549.5 L177.26,550.1 L176.68,550.7 L176.11,551.3 L175.56,551.9 L175.04,552.5 L174.54,553.1 L174.08,553.7 L173.67,554.3 L173.3,554.9 L172.97,555.5 L172.7,556.1 L172.74,556.7 L173.02,557.3 L173.35,557.9 L173.73,558.5 L174.16,559.1 M175.93,521.9 L176.49,522.5 L177.07,523.1 L177.65,523.7 L178.23,524.3 L178.8,524.9 L179.36,525.5 L179.89,526.1 L180.4,526.7 L180.87,527.3 L181.3,527.9 L181.69,528.5 L182.03,529.1 L182.32,529.7 L182.44,530.3 L182.18,530.9 L181.86,531.5 L181.5,532.1 L181.09,532.7 L180.64,533.3 L180.15,533.9 L179.63,534.5 L179.08,535.1 L178.52,535.7 L177.94,536.3 L177.36,536.9 L176.78,537.5 L176.21,538.1 L175.65,538.7 L175.12,539.3 L174.62,539.9 L174.16,540.5 L173.73,541.1 L173.35,541.7 L173.02,542.3 L172.74,542.9 L172.7,543.5 L172.97,544.1 L173.3,544.7 L173.67,545.3 L174.08,545.9 L174.54,546.5 L175.04,547.1 L175.56,547.7 L176.11,548.3 L176.68,548.9 L177.26,549.5 L177.84,550.1 L178.42,550.7 L178.99,551.3 L179.54,551.9 L180.06,552.5 L180.56,553.1 L181.02,553.7 L181.43,554.3 L181.8,554.9 L182.13,555.5 L182.4,556.1 L182.36,556.7 L182.08,557.3 L181.75,557.9 L181.37,558.5 L180.94,559.1" fill="none" stroke="#1a1a1a" stroke-width="1.2"/>
<rect x="172.3" y="521.9" width="10.5" height="37.2" rx="0" fill="none" stroke="#1c1c1c" stroke-width="1.62"/>
<rect x="172.6" y="562.3" width="9.9" height="7.7" rx="0" fill="none" stroke="#1c1c1c" stroke-width="1.2"/>
<line x1="172.6" y1="565" x2="182.5" y2="565" stroke="#1c1c1c" stroke-width="0.96"/>
<line x1="172.6" y1="567.5" x2="182.5" y2="567.5" stroke="#1c1c1c" stroke-width="0.96"/>
<rect x="173.8" y="570" width="7.5" height="10.5" rx="0" fill="none" stroke="#1c1c1c" stroke-width="1.2"/>
<rect x="175.8" y="572.5" width="3.5" height="5.5" rx="0" fill="none" stroke="#1c1c1c" stroke-width="0.96"/>
<rect x="167.25" y="580.5" width="20.6" height="10.5" rx="1.5" fill="none" stroke="#1c1c1c" stroke-width="1.44"/>
<line x1="177.55" y1="580.5" x2="177.55" y2="591" stroke="#1c1c1c" stroke-width="1.2"/>
<rect x="354.6" y="393.6" width="53.4" height="4.8" rx="0" fill="none" stroke="#1c1c1c" stroke-width="1.08"/>
<rect x="355.1" y="394" width="52.4" height="2" fill="#888"/>
<line x1="355.1" y1="396.5" x2="407.5" y2="396.5" stroke="#1c1c1c" stroke-width="0.96"/>
<rect x="364.1" y="397.6" width="16.8" height="7.1" rx="3.2" fill="none" stroke="#1c1c1c" stroke-width="1.32"/>
<rect x="380.9" y="397.6" width="16.2" height="7.1" rx="3.2" fill="none" stroke="#1c1c1c" stroke-width="1.32"/>
<rect x="366.2" y="404.7" width="28.7" height="10.9" rx="0" fill="none" stroke="#1c1c1c" stroke-width="1.56"/>
<rect x="367" y="415.6" width="10.6" height="19" rx="0" fill="none" stroke="#1c1c1c" stroke-width="1.2"/>
<rect x="369.3" y="419.3" width="6" height="9.9" rx="0" fill="none" stroke="#1c1c1c" stroke-width="1.08"/>
<line x1="367" y1="431" x2="377.6" y2="431" stroke="#1c1c1c" stroke-width="0.96"/>
<line x1="367" y1="433.2" x2="377.6" y2="433.2" stroke="#1c1c1c" stroke-width="0.96"/>
<rect x="379.5" y="415.6" width="10.2" height="19" rx="0" fill="none" stroke="#1c1c1c" stroke-width="1.2"/>
<rect x="381.8" y="419.3" width="5.6" height="9.9" rx="0" fill="none" stroke="#1c1c1c" stroke-width="1.08"/>
<line x1="379.5" y1="431" x2="389.7" y2="431" stroke="#1c1c1c" stroke-width="0.96"/>
<line x1="379.5" y1="433.2" x2="389.7" y2="433.2" stroke="#1c1c1c" stroke-width="0.96"/>
<path d="M367.89,434.6 L367.58,435.2 L367.32,435.8 L367.53,436.4 L367.83,437 L368.18,437.6 L368.58,438.2 L369.03,438.8 L369.51,439.4 L370.02,440 L370.57,440.6 L371.13,441.2 L371.71,441.8 L372.3,442.4 L372.89,443 L373.47,443.6 L374.03,444.2 L374.58,444.8 L375.09,445.4 L375.57,446 L376.02,446.6 L376.42,447.2 L376.77,447.8 L377.07,448.4 L377.28,449 L377.02,449.6 L376.71,450.2 L376.35,450.8 L375.95,451.4 L375.5,452 L375.01,452.6 L374.49,453.2 L373.94,453.8 L373.37,454.4 L372.79,455 L372.2,455.6 L371.62,456.2 L371.04,456.8 L370.47,457.4 L369.94,458 L369.42,458.6 L368.95,459.2 L368.51,459.8 L368.12,460.4 L367.78,461 L367.49,461.6 L367.36,462.2 L367.63,462.8 L367.95,463.4 L368.31,464 L368.73,464.6 L369.18,465.2 L369.68,465.8 L370.2,466.4 L370.75,467 L371.32,467.6 L371.91,468.2 L372.5,468.8 L373.08,469.4 L373.66,470 L374.22,470.6 L374.75,471.2 L375.26,471.8 L375.73,472.4 L376.15,473 L376.54,473.6 L376.87,474.2 L377.16,474.8 L377.2,475.4 L376.92,476 L376.6,476.6 L376.22,477.2 L375.8,477.8 L375.34,478.4 L374.84,479 L374.31,479.6 L373.75,480.2 L373.18,480.8 L372.59,481.4 L372.01,482 L371.42,482.6 L370.85,483.2 L370.29,483.8 L369.76,484.4 L369.26,485 L368.8,485.6 L368.38,486.2 L368,486.8 L367.68,487.4 L367.4,488 L367.44,488.6 L367.73,489.2 L368.06,489.8 L368.45,490.4 L368.87,491 L369.34,491.6 L369.85,492.2 L370.38,492.8 L370.94,493.4 L371.52,494 L372.1,494.6 L372.69,495.2 L373.28,495.8 L373.85,496.4 L374.4,497 L374.92,497.6 L375.42,498.2 L375.87,498.8 L376.29,499.4 L376.65,500 L376.97,500.6 L377.24,501.2 L377.11,501.8 L376.82,502.4 L376.48,503 L376.09,503.6 L375.65,504.2 L375.18,504.8 L374.66,505.4 L374.13,506 L373.56,506.6 L372.98,507.2 L372.4,507.8 L371.81,508.4 L371.23,509 L370.66,509.6 L370.11,510.2 L369.59,510.8 L369.1,511.4 L368.65,512 L368.25,512.6 L367.89,513.2 L367.58,513.8 L367.32,514.4 L367.53,515 L367.83,515.6 L368.18,516.2 L368.58,516.8 L369.03,517.4 L369.51,518 M376.71,434.6 L377.02,435.2 L377.28,435.8 L377.07,436.4 L376.77,437 L376.42,437.6 L376.02,438.2 L375.57,438.8 L375.09,439.4 L374.58,440 L374.03,440.6 L373.47,441.2 L372.89,441.8 L372.3,442.4 L371.71,443 L371.13,443.6 L370.57,444.2 L370.02,444.8 L369.51,445.4 L369.03,446 L368.58,446.6 L368.18,447.2 L367.83,447.8 L367.53,448.4 L367.32,449 L367.58,449.6 L367.89,450.2 L368.25,450.8 L368.65,451.4 L369.1,452 L369.59,452.6 L370.11,453.2 L370.66,453.8 L371.23,454.4 L371.81,455 L372.4,455.6 L372.98,456.2 L373.56,456.8 L374.13,457.4 L374.66,458 L375.18,458.6 L375.65,459.2 L376.09,459.8 L376.48,460.4 L376.82,461 L377.11,461.6 L377.24,462.2 L376.97,462.8 L376.65,463.4 L376.29,464 L375.87,464.6 L375.42,465.2 L374.92,465.8 L374.4,466.4 L373.85,467 L373.28,467.6 L372.69,468.2 L372.1,468.8 L371.52,469.4 L370.94,470 L370.38,470.6 L369.85,471.2 L369.34,471.8 L368.87,472.4 L368.45,473 L368.06,473.6 L367.73,474.2 L367.44,474.8 L367.4,475.4 L367.68,476 L368,476.6 L368.38,477.2 L368.8,477.8 L369.26,478.4 L369.76,479 L370.29,479.6 L370.85,480.2 L371.42,480.8 L372.01,481.4 L372.59,482 L373.18,482.6 L373.75,483.2 L374.31,483.8 L374.84,484.4 L375.34,485 L375.8,485.6 L376.22,486.2 L376.6,486.8 L376.92,487.4 L377.2,488 L377.16,488.6 L376.87,489.2 L376.54,489.8 L376.15,490.4 L375.73,491 L375.26,491.6 L374.75,492.2 L374.22,492.8 L373.66,493.4 L373.08,494 L372.5,494.6 L371.91,495.2 L371.32,495.8 L370.75,496.4 L370.2,497 L369.68,497.6 L369.18,498.2 L368.73,498.8 L368.31,499.4 L367.95,500 L367.63,500.6 L367.36,501.2 L367.49,501.8 L367.78,502.4 L368.12,503 L368.51,503.6 L368.95,504.2 L369.42,504.8 L369.94,505.4 L370.47,506 L371.04,506.6 L371.62,507.2 L372.2,507.8 L372.79,508.4 L373.37,509 L373.94,509.6 L374.49,510.2 L375.01,510.8 L375.5,511.4 L375.95,512 L376.35,512.6 L376.71,513.2 L377.02,513.8 L377.28,514.4 L377.07,515 L376.77,515.6 L376.42,516.2 L376.02,516.8 L375.57,517.4 L375.09,518" fill="none" stroke="#1a1a1a" stroke-width="1.2"/>
<rect x="367" y="434.6" width="10.6" height="83.8" rx="0" fill="none" stroke="#1c1c1c" stroke-width="1.62"/>
<path d="M383.76,434.6 L384.32,435.2 L384.88,435.8 L385.44,436.4 L385.99,437 L386.53,437.6 L387.04,438.2 L387.52,438.8 L387.96,439.4 L388.36,440 L388.73,440.6 L389.04,441.2 L389.3,441.8 L389.26,442.4 L388.99,443 L388.67,443.6 L388.3,444.2 L387.89,444.8 L387.44,445.4 L386.95,446 L386.44,446.6 L385.9,447.2 L385.35,447.8 L384.79,448.4 L384.22,449 L383.66,449.6 L383.12,450.2 L382.59,450.8 L382.08,451.4 L381.61,452 L381.17,452.6 L380.77,453.2 L380.42,453.8 L380.11,454.4 L379.86,455 L379.98,455.6 L380.26,456.2 L380.59,456.8 L380.97,457.4 L381.38,458 L381.84,458.6 L382.33,459.2 L382.85,459.8 L383.39,460.4 L383.94,461 L384.51,461.6 L385.07,462.2 L385.63,462.8 L386.17,463.4 L386.7,464 L387.2,464.6 L387.67,465.2 L388.1,465.8 L388.49,466.4 L388.83,467 L389.13,467.6 L389.38,468.2 L389.18,468.8 L388.89,469.4 L388.55,470 L388.17,470.6 L387.74,471.2 L387.28,471.8 L386.79,472.4 L386.26,473 L385.72,473.6 L385.16,474.2 L384.6,474.8 L384.04,475.4 L383.48,476 L382.94,476.6 L382.41,477.2 L381.92,477.8 L381.46,478.4 L381.03,479 L380.65,479.6 L380.31,480.2 L380.02,480.8 L379.82,481.4 L380.07,482 L380.37,482.6 L380.71,483.2 L381.1,483.8 L381.53,484.4 L382,485 L382.5,485.6 L383.03,486.2 L383.57,486.8 L384.13,487.4 L384.69,488 L385.26,488.6 L385.81,489.2 L386.35,489.8 L386.87,490.4 L387.36,491 L387.82,491.6 L388.23,492.2 L388.61,492.8 L388.94,493.4 L389.22,494 L389.34,494.6 L389.09,495.2 L388.78,495.8 L388.43,496.4 L388.03,497 L387.59,497.6 L387.12,498.2 L386.61,498.8 L386.08,499.4 L385.54,500 L384.98,500.6 L384.41,501.2 L383.85,501.8 L383.3,502.4 L382.76,503 L382.25,503.6 L381.76,504.2 L381.31,504.8 L380.9,505.4 L380.53,506 L380.21,506.6 L379.94,507.2 L379.9,507.8 L380.16,508.4 L380.47,509 L380.84,509.6 L381.24,510.2 L381.68,510.8 L382.16,511.4 L382.67,512 L383.21,512.6 L383.76,513.2 L384.32,513.8 L384.88,514.4 L385.44,515 L385.99,515.6 L386.53,516.2 L387.04,516.8 L387.52,517.4 L387.96,518 M385.44,434.6 L384.88,435.2 L384.32,435.8 L383.76,436.4 L383.21,437 L382.67,437.6 L382.16,438.2 L381.68,438.8 L381.24,439.4 L380.84,440 L380.47,440.6 L380.16,441.2 L379.9,441.8 L379.94,442.4 L380.21,443 L380.53,443.6 L380.9,444.2 L381.31,444.8 L381.76,445.4 L382.25,446 L382.76,446.6 L383.3,447.2 L383.85,447.8 L384.41,448.4 L384.98,449 L385.54,449.6 L386.08,450.2 L386.61,450.8 L387.12,451.4 L387.59,452 L388.03,452.6 L388.43,453.2 L388.78,453.8 L389.09,454.4 L389.34,455 L389.22,455.6 L388.94,456.2 L388.61,456.8 L388.23,457.4 L387.82,458 L387.36,458.6 L386.87,459.2 L386.35,459.8 L385.81,460.4 L385.26,461 L384.69,461.6 L384.13,462.2 L383.57,462.8 L383.03,463.4 L382.5,464 L382,464.6 L381.53,465.2 L381.1,465.8 L380.71,466.4 L380.37,467 L380.07,467.6 L379.82,468.2 L380.02,468.8 L380.31,469.4 L380.65,470 L381.03,470.6 L381.46,471.2 L381.92,471.8 L382.41,472.4 L382.94,473 L383.48,473.6 L384.04,474.2 L384.6,474.8 L385.16,475.4 L385.72,476 L386.26,476.6 L386.79,477.2 L387.28,477.8 L387.74,478.4 L388.17,479 L388.55,479.6 L388.89,480.2 L389.18,480.8 L389.38,481.4 L389.13,482 L388.83,482.6 L388.49,483.2 L388.1,483.8 L387.67,484.4 L387.2,485 L386.7,485.6 L386.17,486.2 L385.63,486.8 L385.07,487.4 L384.51,488 L383.94,488.6 L383.39,489.2 L382.85,489.8 L382.33,490.4 L381.84,491 L381.38,491.6 L380.97,492.2 L380.59,492.8 L380.26,493.4 L379.98,494 L379.86,494.6 L380.11,495.2 L380.42,495.8 L380.77,496.4 L381.17,497 L381.61,497.6 L382.08,498.2 L382.59,498.8 L383.12,499.4 L383.66,500 L384.22,500.6 L384.79,501.2 L385.35,501.8 L385.9,502.4 L386.44,503 L386.95,503.6 L387.44,504.2 L387.89,504.8 L388.3,505.4 L388.67,506 L388.99,506.6 L389.26,507.2 L389.3,507.8 L389.04,508.4 L388.73,509 L388.36,509.6 L387.96,510.2 L387.52,510.8 L387.04,511.4 L386.53,512 L385.99,512.6 L385.44,513.2 L384.88,513.8 L384.32,514.4 L383.76,515 L383.21,515.6 L382.67,516.2 L382.16,516.8 L381.68,517.4 L381.24,518" fill="none" stroke="#1a1a1a" stroke-width="1.2"/>
<rect x="379.5" y="434.6" width="10.2" height="83.8" rx="0" fill="none" stroke="#1c1c1c" stroke-width="1.62"/>
<rect x="379.5" y="521.9" width="10.2" height="6.7" rx="0" fill="none" stroke="#1c1c1c" stroke-width="1.56"/>
<path d="M379.5,521.9 L384.6,527.4 L389.7,521.9" fill="none" stroke="#1c1c1c" stroke-width="1.32"/>
<rect x="380" y="528.6" width="9.2" height="5.9" rx="0" fill="none" stroke="#1c1c1c" stroke-width="1.2"/>
<line x1="380" y1="531.5" x2="389.2" y2="531.5" stroke="#1c1c1c" stroke-width="0.96"/>
<rect x="381.8" y="534.5" width="6.3" height="10.6" rx="0" fill="none" stroke="#1c1c1c" stroke-width="1.2"/>
<rect x="383.5" y="537" width="2.7" height="6.5" rx="0" fill="none" stroke="#1c1c1c" stroke-width="0.96"/>
<rect x="375" y="545.1" width="19.2" height="10.2" rx="1.5" fill="none" stroke="#1c1c1c" stroke-width="1.44"/>
<line x1="384.6" y1="545.1" x2="384.6" y2="555.3" stroke="#1c1c1c" stroke-width="1.2"/>
<path d="M373.18,521.9 L373.75,522.5 L374.31,523.1 L374.84,523.7 L375.34,524.3 L375.8,524.9 L376.22,525.5 L376.6,526.1 L376.92,526.7 L377.2,527.3 L377.16,527.9 L376.87,528.5 L376.54,529.1 L376.15,529.7 L375.73,530.3 L375.26,530.9 L374.75,531.5 L374.22,532.1 L373.66,532.7 L373.08,533.3 L372.5,533.9 L371.91,534.5 L371.32,535.1 L370.75,535.7 L370.2,536.3 L369.68,536.9 L369.18,537.5 L368.73,538.1 L368.31,538.7 L367.95,539.3 L367.63,539.9 L367.36,540.5 L367.49,541.1 L367.78,541.7 L368.12,542.3 L368.51,542.9 L368.95,543.5 L369.42,544.1 L369.94,544.7 L370.47,545.3 L371.04,545.9 L371.62,546.5 L372.2,547.1 L372.79,547.7 L373.37,548.3 L373.94,548.9 L374.49,549.5 L375.01,550.1 L375.5,550.7 L375.95,551.3 L376.35,551.9 L376.71,552.5 L377.02,553.1 L377.28,553.7 L377.07,554.3 L376.77,554.9 L376.42,555.5 L376.02,556.1 L375.57,556.7 L375.09,557.3 L374.58,557.9 L374.03,558.5 L373.47,559.1 M371.42,521.9 L370.85,522.5 L370.29,523.1 L369.76,523.7 L369.26,524.3 L368.8,524.9 L368.38,525.5 L368,526.1 L367.68,526.7 L367.4,527.3 L367.44,527.9 L367.73,528.5 L368.06,529.1 L368.45,529.7 L368.87,530.3 L369.34,530.9 L369.85,531.5 L370.38,532.1 L370.94,532.7 L371.52,533.3 L372.1,533.9 L372.69,534.5 L373.28,535.1 L373.85,535.7 L374.4,536.3 L374.92,536.9 L375.42,537.5 L375.87,538.1 L376.29,538.7 L376.65,539.3 L376.97,539.9 L377.24,540.5 L377.11,541.1 L376.82,541.7 L376.48,542.3 L376.09,542.9 L375.65,543.5 L375.18,544.1 L374.66,544.7 L374.13,545.3 L373.56,545.9 L372.98,546.5 L372.4,547.1 L371.81,547.7 L371.23,548.3 L370.66,548.9 L370.11,549.5 L369.59,550.1 L369.1,550.7 L368.65,551.3 L368.25,551.9 L367.89,552.5 L367.58,553.1 L367.32,553.7 L367.53,554.3 L367.83,554.9 L368.18,555.5 L368.58,556.1 L369.03,556.7 L369.51,557.3 L370.02,557.9 L370.57,558.5 L371.13,559.1" fill="none" stroke="#1a1a1a" stroke-width="1.2"/>
<rect x="367" y="521.9" width="10.6" height="37.2" rx="0" fill="none" stroke="#1c1c1c" stroke-width="1.62"/>
<rect x="367.3" y="562.3" width="10" height="7.7" rx="0" fill="none" stroke="#1c1c1c" stroke-width="1.2"/>
<line x1="367.3" y1="565" x2="377.3" y2="565" stroke="#1c1c1c" stroke-width="0.96"/>
<line x1="367.3" y1="567.5" x2="377.3" y2="567.5" stroke="#1c1c1c" stroke-width="0.96"/>
<rect x="368.5" y="570" width="7.6" height="10.5" rx="0" fill="none" stroke="#1c1c1c" stroke-width="1.2"/>
<rect x="370.5" y="572.5" width="3.6" height="5.5" rx="0" fill="none" stroke="#1c1c1c" stroke-width="0.96"/>
<rect x="362" y="580.5" width="20.6" height="10.5" rx="1.5" fill="none" stroke="#1c1c1c" stroke-width="1.44"/>
<line x1="372.3" y1="580.5" x2="372.3" y2="591" stroke="#1c1c1c" stroke-width="1.2"/>
<rect x="248.7" y="393.6" width="52.6" height="4.8" rx="0" fill="none" stroke="#1c1c1c" stroke-width="1.08"/>
<rect x="249.2" y="394" width="51.6" height="2" fill="#888"/>
<line x1="249.2" y1="396.5" x2="300.8" y2="396.5" stroke="#1c1c1c" stroke-width="0.96"/>
<rect x="266.5" y="398" width="16.9" height="11.3" rx="0" fill="none" stroke="#1c1c1c" stroke-width="1.32"/>
<rect x="265.2" y="409.3" width="19.4" height="6.3" rx="1" fill="none" stroke="#1c1c1c" stroke-width="1.32"/>
<line x1="268.5" y1="409.8" x2="268.5" y2="415.1" stroke="#1c1c1c" stroke-width="0.96"/>
<line x1="271.2" y1="409.8" x2="271.2" y2="415.1" stroke="#1c1c1c" stroke-width="0.96"/>
<line x1="274.9" y1="409.8" x2="274.9" y2="415.1" stroke="#1c1c1c" stroke-width="0.96"/>
<line x1="278.6" y1="409.8" x2="278.6" y2="415.1" stroke="#1c1c1c" stroke-width="0.96"/>
<line x1="281.3" y1="409.8" x2="281.3" y2="415.1" stroke="#1c1c1c" stroke-width="0.96"/>
<line x1="268.6" y1="415.6" x2="268.6" y2="424.2" stroke="#1c1c1c" stroke-width="1.2"/>
<line x1="281.2" y1="415.6" x2="281.2" y2="424.2" stroke="#1c1c1c" stroke-width="1.2"/>
<rect x="266.1" y="424.2" width="17.8" height="13.8" rx="0" fill="none" stroke="#1c1c1c" stroke-width="1.8"/>
<line x1="274.5" y1="424.2" x2="274.5" y2="438" stroke="#1c1c1c" stroke-width="1.56"/>
<path d="M266.1,438 L266.1,449.4 L274.9,458 L283.9,449.4 L283.9,438" fill="none" stroke="#1c1c1c" stroke-width="1.56"/>
<path d="M261.2,450.2 L266.1,449.6 M283.9,449.6 L288.7,450.2 M261.2,467.2 L288.7,467.2" fill="none" stroke="#1c1c1c" stroke-width="1.44"/>
<rect x="249.7" y="450.6" width="11.7" height="17.1" rx="1.5" fill="none" stroke="#1c1c1c" stroke-width="1.92"/>
<rect x="288.5" y="450.6" width="11.6" height="17.1" rx="1.5" fill="none" stroke="#1c1c1c" stroke-width="1.92"/>
<path d="M249.7,457.4 L213.8,457.4 L213.8,611.5 L177.4,611.5 L177.4,591" fill="none" stroke="#505050" stroke-width="1" stroke-dasharray="5,2.3,0.7,2.3"/>
<path d="M300.1,457.4 L336.3,457.4 L336.3,611.2 L372.5,611.2 L372.5,591" fill="none" stroke="#505050" stroke-width="1" stroke-dasharray="5,2.3,0.7,2.3"/>
<line x1="152" y1="397.8" x2="152" y2="426.7" stroke="#505050" stroke-width="1.4"/>
<line x1="187" y1="397.8" x2="187" y2="426.7" stroke="#505050" stroke-width="1.4"/>
<line x1="107.8" y1="422.7" x2="196" y2="422.7" stroke="#505050" stroke-width="1.4"/>
<polygon points="152,422.7 144,420.7 144,424.7" fill="#111"/>
<polygon points="187,422.7 195,420.7 195,424.7" fill="#111"/>
<circle cx="112.1" cy="416.1" r="4.1" fill="none" stroke="#262626" stroke-width="1.0"/>
<line x1="108.4" y1="421.8" x2="115.8" y2="410" stroke="#262626" stroke-width="0.9"/>
<text x="119.3" y="419.6" text-anchor="start" font-size="11.5">33.5</text>
<line x1="257.2" y1="398.5" x2="257.2" y2="427.6" stroke="#505050" stroke-width="1.4"/>
<line x1="292.7" y1="398.5" x2="292.7" y2="427.6" stroke="#505050" stroke-width="1.4"/>
<line x1="248.7" y1="423.4" x2="338.8" y2="423.4" stroke="#505050" stroke-width="1.4"/>
<polygon points="257.2,423.4 249.2,421.4 249.2,425.4" fill="#111"/>
<polygon points="292.7,423.4 300.7,421.4 300.7,425.4" fill="#111"/>
<circle cx="309.3" cy="417.2" r="4.1" fill="none" stroke="#262626" stroke-width="1.0"/>
<line x1="305.6" y1="422.9" x2="313" y2="411.1" stroke="#262626" stroke-width="0.9"/>
<text x="316.5" y="420.7" text-anchor="start" font-size="11.5">33.5</text>
<line x1="362.6" y1="397.8" x2="362.6" y2="427" stroke="#505050" stroke-width="1.4"/>
<line x1="397.6" y1="397.8" x2="397.6" y2="427" stroke="#505050" stroke-width="1.4"/>
<line x1="353.8" y1="423.7" x2="447.5" y2="423.7" stroke="#505050" stroke-width="1.4"/>
<polygon points="362.6,423.7 354.6,421.7 354.6,425.7" fill="#111"/>
<polygon points="397.6,423.7 405.6,421.7 405.6,425.7" fill="#111"/>
<circle cx="418.1" cy="417.4" r="4.1" fill="none" stroke="#262626" stroke-width="1.0"/>
<line x1="414.4" y1="423.1" x2="421.8" y2="411.3" stroke="#262626" stroke-width="0.9"/>
<text x="425.3" y="420.9" text-anchor="start" font-size="11.5">33.5</text>
<line x1="156.3" y1="555.5" x2="156.3" y2="579.5" stroke="#505050" stroke-width="1.4"/>
<line x1="118" y1="575.5" x2="182.6" y2="575.5" stroke="#505050" stroke-width="1.4"/>
<polygon points="156.3,575.5 148.3,573.5 148.3,577.5" fill="#111"/>
<polygon points="174.6,575.5 182.6,573.5 182.6,577.5" fill="#111"/>
<text x="118.3" y="573.7" text-anchor="start" font-size="11.5">G3/8"</text>
<line x1="168.6" y1="591" x2="168.6" y2="635.5" stroke="#505050" stroke-width="1.4"/>
<line x1="186.8" y1="591" x2="186.8" y2="635.5" stroke="#505050" stroke-width="1.4"/>
<line x1="132" y1="631.5" x2="194.5" y2="631.5" stroke="#505050" stroke-width="1.4"/>
<polygon points="168.6,631.5 160.6,629.5 160.6,633.5" fill="#111"/>
<polygon points="186.8,631.5 194.8,629.5 194.8,633.5" fill="#111"/>
<text x="131.6" y="629.9" text-anchor="start" font-size="11.5">G3/8"</text>
<line x1="393" y1="555.5" x2="393" y2="578.5" stroke="#505050" stroke-width="1.4"/>
<line x1="367" y1="574.5" x2="440.3" y2="574.5" stroke="#505050" stroke-width="1.4"/>
<polygon points="393,574.5 401,572.5 401,576.5" fill="#111"/>
<polygon points="375.2,574.5 367.2,572.5 367.2,576.5" fill="#111"/>
<text x="410.4" y="571.7" text-anchor="start" font-size="11.5">G3/8"</text>
<line x1="363.8" y1="591" x2="363.8" y2="634.8" stroke="#505050" stroke-width="1.4"/>
<line x1="381.3" y1="591" x2="381.3" y2="634.8" stroke="#505050" stroke-width="1.4"/>
<line x1="355" y1="629.8" x2="422.3" y2="629.8" stroke="#505050" stroke-width="1.4"/>
<polygon points="363.8,629.8 355.8,627.8 355.8,631.8" fill="#111"/>
<polygon points="381.3,629.8 389.3,627.8 389.3,631.8" fill="#111"/>
<text x="392.6" y="628" text-anchor="start" font-size="11.5">G3/8"</text>
<line x1="27.8" y1="351.4" x2="27.8" y2="591" stroke="#505050" stroke-width="1.4"/>
<polygon points="27.8,351.4 25.8,359.4 29.8,359.4" fill="#111"/>
<polygon points="27.8,591 25.8,583 29.8,583" fill="#111"/>
<line x1="23.8" y1="591" x2="166" y2="591" stroke="#505050" stroke-width="1.4"/>
<text transform="translate(26.4,471.6) rotate(-90)" text-anchor="middle" font-size="11.5">601</text>
<line x1="74.3" y1="351.4" x2="74.3" y2="555.6" stroke="#505050" stroke-width="1.4"/>
<polygon points="74.3,351.4 72.3,359.4 76.3,359.4" fill="#111"/>
<polygon points="74.3,555.6 72.3,547.6 76.3,547.6" fill="#111"/>
<line x1="70" y1="555.6" x2="153.8" y2="555.6" stroke="#505050" stroke-width="1.4"/>
<text transform="translate(72.2,454.2) rotate(-90)" text-anchor="middle" font-size="11.5">521</text>
<line x1="701.8" y1="20" x2="701.8" y2="348" stroke="#505050" stroke-width="1.4"/>
<line x1="925" y1="20" x2="925" y2="169.5" stroke="#505050" stroke-width="1.4"/>
<line x1="701.8" y1="24.3" x2="925" y2="24.3" stroke="#505050" stroke-width="1.4"/>
<polygon points="701.8,24.3 709.8,22.3 709.8,26.3" fill="#111"/>
<polygon points="925,24.3 917,22.3 917,26.3" fill="#111"/>
<text x="813.8" y="22" text-anchor="middle" font-size="11.5">212</text>
<line x1="633.9" y1="56.3" x2="688.5" y2="56.3" stroke="#505050" stroke-width="1.4"/>
<line x1="720.2" y1="56.3" x2="817" y2="56.3" stroke="#505050" stroke-width="1.4"/>
<line x1="638.4" y1="56.3" x2="638.4" y2="351.2" stroke="#505050" stroke-width="1.4"/>
<polygon points="638.4,56.3 636.4,64.3 640.4,64.3" fill="#111"/>
<polygon points="638.4,351.2 636.4,343.2 640.4,343.2" fill="#111"/>
<text transform="translate(636.5,204.4) rotate(-90)" text-anchor="middle" font-size="11.5">281</text>
<line x1="633.9" y1="351.2" x2="683.1" y2="351.2" stroke="#505050" stroke-width="1.4"/>
<path d="M718.5,158.3 A102.0,102.0 0 0 1 922.09,149.2 L924.6,169.4" fill="none" stroke="#1c1c1c" stroke-width="1.2"/>
<path d="M743.5,158.3 A77.0,77.0 0 0 1 897.24,152 L899.4,171.2" fill="none" stroke="#1c1c1c" stroke-width="1.2"/>
<line x1="897.24" y1="152" x2="922.09" y2="149.2" stroke="#1c1c1c" stroke-width="1.2"/>
<line x1="718.5" y1="158.3" x2="743.5" y2="158.3" stroke="#1c1c1c" stroke-width="1.2"/>
<line x1="718.5" y1="158.3" x2="718.5" y2="267.4" stroke="#1c1c1c" stroke-width="1.2"/>
<line x1="743.5" y1="158.3" x2="743.5" y2="267.4" stroke="#1c1c1c" stroke-width="1.2"/>
<path d="M897.8,171.2 L925.2,169.2 Q926.6,171.2 925.2,172.4 L898.6,174.4 Q896.8,173.2 897.8,171.2 Z" fill="none" stroke="#1c1c1c" stroke-width="1.2"/>
<path d="M899,173.6 L924.5,171.8 L924.2,173 L899.5,174.9 Z" fill="#1c1c1c" stroke="#1c1c1c" stroke-width="0.72"/>
<line x1="913" y1="174.3" x2="999.3" y2="174.3" stroke="#505050" stroke-width="1.4"/>
<line x1="994.7" y1="174.3" x2="994.7" y2="351.4" stroke="#505050" stroke-width="1.4"/>
<polygon points="994.7,174.3 992.7,182.3 996.7,182.3" fill="#111"/>
<polygon points="994.7,351.4 992.7,343.4 996.7,343.4" fill="#111"/>
<text transform="translate(992.3,263) rotate(-90)" text-anchor="middle" font-size="11.5">168</text>
<line x1="776.8" y1="351.4" x2="999.3" y2="351.4" stroke="#505050" stroke-width="1.4"/>
<line x1="912" y1="175" x2="912" y2="183.4" stroke="#505050" stroke-width="1.4"/>
<line x1="912" y1="186.5" x2="912" y2="243.6" stroke="#505050" stroke-width="1.4"/>
<line x1="912" y1="186.8" x2="916" y2="221" stroke="#505050" stroke-width="1.4"/>
<polygon points="912,216.3 904,214.3 904,218.3" fill="#111"/>
<polygon points="915.6,216.3 923.6,214.3 923.6,218.3" fill="#111"/>
<line x1="922" y1="216.3" x2="932.8" y2="212" stroke="#505050" stroke-width="1"/>
<text x="936.4" y="208.4" text-anchor="start" font-size="11.5">5°</text>
<line x1="730.4" y1="235.3" x2="730.4" y2="257.2" stroke="#505050" stroke-width="1.4"/>
<line x1="730.4" y1="239.6" x2="912" y2="239.6" stroke="#505050" stroke-width="1.4"/>
<polygon points="730.4,239.6 738.4,237.6 738.4,241.6" fill="#111"/>
<polygon points="912,239.6 904,237.6 904,241.6" fill="#111"/>
<text x="821.6" y="237.3" text-anchor="middle" font-size="11.5">172</text>
<path d="M720.6,267.2 Q720.4,260.3 731,260.1 Q741.6,260.3 741.7,267.2" fill="none" stroke="#1c1c1c" stroke-width="1.2"/>
<rect x="722.5" y="263.6" width="17" height="2.4" fill="#3a3a3a"/>
<rect x="717.9" y="267.4" width="27.1" height="7.4" rx="2" fill="none" stroke="#1c1c1c" stroke-width="1.44"/>
<rect x="718.4" y="268" width="2.2" height="6.2" fill="#777"/>
<rect x="742.3" y="268" width="2.2" height="6.2" fill="#777"/>
<line x1="722.9" y1="267.4" x2="722.9" y2="274.8" stroke="#1c1c1c" stroke-width="1.08"/>
<line x1="739" y1="267.4" x2="739" y2="274.8" stroke="#1c1c1c" stroke-width="1.08"/>
<line x1="717" y1="270" x2="717" y2="280" stroke="#1c1c1c" stroke-width="1.08"/>
<path d="M721,274.8 Q720.5,279.6 725,280.4 L737,280.4 Q741.5,279.6 741.3,274.8" fill="none" stroke="#1c1c1c" stroke-width="1.2"/>
<line x1="724.8" y1="281.3" x2="737.6" y2="281.3" stroke="#1c1c1c" stroke-width="1.2"/>
<path d="M724.8,281 Q725.5,285.2 716.5,286.8 M737.6,281 Q737,285.2 745.5,286.8" fill="none" stroke="#1c1c1c" stroke-width="1.2"/>
<line x1="722.5" y1="283.2" x2="739" y2="283.2" stroke="#1c1c1c" stroke-width="1.68"/>
<line x1="719.5" y1="285.3" x2="742" y2="285.3" stroke="#1c1c1c" stroke-width="1.68"/>
<rect x="716" y="286.6" width="30.3" height="6.5" rx="1.5" fill="none" stroke="#1c1c1c" stroke-width="1.32"/>
<line x1="717.5" y1="289" x2="745" y2="289" stroke="#1c1c1c" stroke-width="1.08"/>
<line x1="724.3" y1="289" x2="724.3" y2="293.1" stroke="#1c1c1c" stroke-width="1.08"/>
<line x1="737.6" y1="289" x2="737.6" y2="293.1" stroke="#1c1c1c" stroke-width="1.08"/>
<rect x="716.6" y="289.3" width="2" height="3.3" fill="#555"/>
<rect x="743.7" y="289.3" width="2" height="3.3" fill="#555"/>
<line x1="716" y1="292.7" x2="746.3" y2="292.7" stroke="#1c1c1c" stroke-width="1.8"/>
<path d="M709.1,305.4 L709.1,295 Q709.1,293.2 710.9,293.2 L749.9,293.2 Q751.6999999999999,293.2 751.6999999999999,295 L751.6999999999999,305.4" fill="none" stroke="#1c1c1c" stroke-width="1.2"/>
<line x1="709.1" y1="302.8" x2="751.7" y2="302.8" stroke="#1c1c1c" stroke-width="1.08"/>
<rect x="709.4" y="305.5" width="42" height="3.3" rx="0" fill="none" stroke="#1c1c1c" stroke-width="1.08"/>
<rect x="710.4" y="306.4" width="40" height="2" fill="#2a2a2a"/>
<line x1="709.4" y1="308.8" x2="709.4" y2="339.4" stroke="#1c1c1c" stroke-width="1.2"/>
<line x1="751.4" y1="308.8" x2="751.4" y2="339.4" stroke="#1c1c1c" stroke-width="1.2"/>
<path d="M709.4,339.4 Q709.4,343.8 704.4,344.4 L701.9,346.5 L701.6,351.3 M751.4,339.4 Q751.4,343.8 756.4,344.4 L758.9,346.5 L759.1999999999999,351.3" fill="none" stroke="#1c1c1c" stroke-width="1.2"/>
<line x1="709.4" y1="339.4" x2="751.4" y2="339.4" stroke="#1c1c1c" stroke-width="1.8"/>
<line x1="704.4" y1="344.4" x2="756.4" y2="344.4" stroke="#1c1c1c" stroke-width="1.68"/>
<line x1="701.9" y1="346.6" x2="758.9" y2="346.6" stroke="#1c1c1c" stroke-width="1.44"/>
<rect x="688.5" y="351.2" width="85.3" height="42.7" rx="0" fill="none" stroke="#1c1c1c" stroke-width="1.2"/>
<path d="M688.5,367L704.3,351.2M688.5,384.7L713.3,359.9M697,393.9L713.3,377.6M749,359.6L757.4,351.2M749,377.3L773.8,352.5M750.1,393.9L773.8,370.2M767.8,393.9L773.8,387.9" fill="none" stroke="#333" stroke-width="1.08"/>
<line x1="713.3" y1="351.2" x2="713.3" y2="393.9" stroke="#1c1c1c" stroke-width="1.2"/>
<line x1="717.2" y1="351.2" x2="717.2" y2="393.9" stroke="#1c1c1c" stroke-width="1.2"/>
<line x1="745.4" y1="351.2" x2="745.4" y2="393.9" stroke="#1c1c1c" stroke-width="1.2"/>
<line x1="749" y1="351.2" x2="749" y2="393.9" stroke="#1c1c1c" stroke-width="1.2"/>
<line x1="717.2" y1="369.1" x2="745.4" y2="369.1" stroke="#1c1c1c" stroke-width="1.2"/>
<rect x="704.3" y="393.6" width="53.6" height="4.8" rx="0" fill="none" stroke="#1c1c1c" stroke-width="1.08"/>
<rect x="704.8" y="394" width="52.6" height="2" fill="#888"/>
<line x1="704.8" y1="396.5" x2="757.4" y2="396.5" stroke="#1c1c1c" stroke-width="0.96"/>
<rect x="712.3" y="397.6" width="10.9" height="6.9" rx="3.2" fill="none" stroke="#1c1c1c" stroke-width="1.32"/>
<rect x="723.2" y="397.6" width="18.8" height="6.9" rx="3.2" fill="none" stroke="#1c1c1c" stroke-width="1.32"/>
<rect x="742" y="397.6" width="9" height="6.9" rx="3.2" fill="none" stroke="#1c1c1c" stroke-width="1.32"/>
<rect x="716.7" y="404.5" width="28.7" height="10.8" rx="0" fill="none" stroke="#1c1c1c" stroke-width="1.56"/>
<rect x="726.2" y="415.6" width="9.6" height="19" rx="0" fill="none" stroke="#1c1c1c" stroke-width="1.2"/>
<rect x="728.5" y="419.3" width="5" height="9.9" rx="0" fill="none" stroke="#1c1c1c" stroke-width="1.08"/>
<line x1="726.2" y1="431" x2="735.8" y2="431" stroke="#1c1c1c" stroke-width="0.96"/>
<line x1="726.2" y1="433.2" x2="735.8" y2="433.2" stroke="#1c1c1c" stroke-width="0.96"/>
<path d="M728.64,435 L729.11,435.6 L729.61,436.2 L730.12,436.8 L730.65,437.4 L731.18,438 L731.7,438.6 L732.22,439.2 L732.73,439.8 L733.21,440.4 L733.66,441 L734.08,441.6 L734.47,442.2 L734.81,442.8 L735.12,443.4 L735.37,444 L735.41,444.6 L735.16,445.2 L734.87,445.8 L734.53,446.4 L734.15,447 L733.73,447.6 L733.28,448.2 L732.81,448.8 L732.31,449.4 L731.79,450 L731.26,450.6 L730.74,451.2 L730.21,451.8 L729.69,452.4 L729.19,453 L728.72,453.6 L728.27,454.2 L727.85,454.8 L727.47,455.4 L727.13,456 L726.84,456.6 L726.59,457.2 L726.63,457.8 L726.88,458.4 L727.19,459 L727.53,459.6 L727.92,460.2 L728.34,460.8 L728.79,461.4 L729.27,462 L729.78,462.6 L730.3,463.2 L730.82,463.8 L731.35,464.4 L731.88,465 L732.39,465.6 L732.89,466.2 L733.36,466.8 L733.81,467.4 L734.22,468 L734.59,468.6 L734.92,469.2 L735.21,469.8 L735.45,470.4 L735.33,471 L735.07,471.6 L734.76,472.2 L734.41,472.8 L734.02,473.4 L733.59,474 L733.13,474.6 L732.64,475.2 L732.14,475.8 L731.62,476.4 L731.09,477 L730.56,477.6 L730.04,478.2 L729.52,478.8 L729.03,479.4 L728.56,480 L728.12,480.6 L727.72,481.2 L727.35,481.8 L727.03,482.4 L726.75,483 L726.52,483.6 L726.71,484.2 L726.98,484.8 L727.3,485.4 L727.66,486 L728.05,486.6 L728.49,487.2 L728.95,487.8 L729.44,488.4 L729.95,489 L730.47,489.6 L731,490.2 L731.53,490.8 L732.05,491.4 L732.56,492 L733.05,492.6 L733.51,493.2 L733.95,493.8 L734.34,494.4 L734.7,495 L735.02,495.6 L735.29,496.2 L735.48,496.8 L735.25,497.4 L734.97,498 L734.65,498.6 L734.28,499.2 L733.88,499.8 L733.44,500.4 L732.97,501 L732.48,501.6 L731.96,502.2 L731.44,502.8 L730.91,503.4 L730.38,504 L729.86,504.6 L729.36,505.2 L728.87,505.8 L728.41,506.4 L727.98,507 L727.59,507.6 L727.24,508.2 L726.93,508.8 L726.67,509.4 L726.55,510 L726.79,510.6 L727.08,511.2 L727.41,511.8 L727.78,512.4 L728.19,513 L728.64,513.6 L729.11,514.2 L729.61,514.8 L730.12,515.4 L730.65,516 L731.18,516.6 L731.7,517.2 L732.22,517.8 L732.73,518.4 M733.36,435 L732.89,435.6 L732.39,436.2 L731.88,436.8 L731.35,437.4 L730.82,438 L730.3,438.6 L729.78,439.2 L729.27,439.8 L728.79,440.4 L728.34,441 L727.92,441.6 L727.53,442.2 L727.19,442.8 L726.88,443.4 L726.63,444 L726.59,444.6 L726.84,445.2 L727.13,445.8 L727.47,446.4 L727.85,447 L728.27,447.6 L728.72,448.2 L729.19,448.8 L729.69,449.4 L730.21,450 L730.74,450.6 L731.26,451.2 L731.79,451.8 L732.31,452.4 L732.81,453 L733.28,453.6 L733.73,454.2 L734.15,454.8 L734.53,455.4 L734.87,456 L735.16,456.6 L735.41,457.2 L735.37,457.8 L735.12,458.4 L734.81,459 L734.47,459.6 L734.08,460.2 L733.66,460.8 L733.21,461.4 L732.73,462 L732.22,462.6 L731.7,463.2 L731.18,463.8 L730.65,464.4 L730.12,465 L729.61,465.6 L729.11,466.2 L728.64,466.8 L728.19,467.4 L727.78,468 L727.41,468.6 L727.08,469.2 L726.79,469.8 L726.55,470.4 L726.67,471 L726.93,471.6 L727.24,472.2 L727.59,472.8 L727.98,473.4 L728.41,474 L728.87,474.6 L729.36,475.2 L729.86,475.8 L730.38,476.4 L730.91,477 L731.44,477.6 L731.96,478.2 L732.48,478.8 L732.97,479.4 L733.44,480 L733.88,480.6 L734.28,481.2 L734.65,481.8 L734.97,482.4 L735.25,483 L735.48,483.6 L735.29,484.2 L735.02,484.8 L734.7,485.4 L734.34,486 L733.95,486.6 L733.51,487.2 L733.05,487.8 L732.56,488.4 L732.05,489 L731.53,489.6 L731,490.2 L730.47,490.8 L729.95,491.4 L729.44,492 L728.95,492.6 L728.49,493.2 L728.05,493.8 L727.66,494.4 L727.3,495 L726.98,495.6 L726.71,496.2 L726.52,496.8 L726.75,497.4 L727.03,498 L727.35,498.6 L727.72,499.2 L728.12,499.8 L728.56,500.4 L729.03,501 L729.52,501.6 L730.04,502.2 L730.56,502.8 L731.09,503.4 L731.62,504 L732.14,504.6 L732.64,505.2 L733.13,505.8 L733.59,506.4 L734.02,507 L734.41,507.6 L734.76,508.2 L735.07,508.8 L735.33,509.4 L735.45,510 L735.21,510.6 L734.92,511.2 L734.59,511.8 L734.22,512.4 L733.81,513 L733.36,513.6 L732.89,514.2 L732.39,514.8 L731.88,515.4 L731.35,516 L730.82,516.6 L730.3,517.2 L729.78,517.8 L729.27,518.4" fill="none" stroke="#1a1a1a" stroke-width="1.2"/>
<rect x="726.2" y="435" width="9.6" height="83.4" rx="0" fill="none" stroke="#1c1c1c" stroke-width="1.62"/>
<rect x="736.3" y="425" width="9.1" height="11.7" rx="0" fill="none" stroke="#1c1c1c" stroke-width="1.32"/>
<line x1="740.6" y1="415.3" x2="740.6" y2="425" stroke="#1c1c1c" stroke-width="1.2"/>
<line x1="745" y1="415.3" x2="745" y2="425" stroke="#1c1c1c" stroke-width="1.2"/>
<path d="M744.4,436.7 L744.4,455" fill="none" stroke="#1c1c1c" stroke-width="1.2"/>
<path d="M736,450.5 A7.8,7.8 0 0 1 736,466.1" fill="none" stroke="#1c1c1c" stroke-width="1.44"/>
<path d="M736,453.2 A5.1,5.1 0 0 1 736,463.4" fill="none" stroke="#1c1c1c" stroke-width="2.4"/>
<rect x="725.2" y="522" width="10.7" height="7" rx="0" fill="none" stroke="#1c1c1c" stroke-width="1.44"/>
<path d="M725.2,522.0 L730.55,527.0 L735.9,522.0" fill="none" stroke="#1c1c1c" stroke-width="1.2"/>
<rect x="725.7" y="529" width="9.7" height="6" rx="0" fill="none" stroke="#1c1c1c" stroke-width="1.2"/>
<line x1="725.7" y1="532" x2="735.4" y2="532" stroke="#1c1c1c" stroke-width="0.96"/>
<rect x="727.2" y="535" width="6.7" height="10.9" rx="0" fill="none" stroke="#1c1c1c" stroke-width="1.2"/>
<rect x="728.7" y="537.5" width="3.7" height="6.4" rx="0" fill="none" stroke="#1c1c1c" stroke-width="0.96"/>
<rect x="718.95" y="545.9" width="23.2" height="9.9" rx="2" fill="none" stroke="#1c1c1c" stroke-width="1.44"/>
<line x1="724.55" y1="545.9" x2="724.55" y2="555.8" stroke="#1c1c1c" stroke-width="1.2"/>
<line x1="736.55" y1="545.9" x2="736.55" y2="555.8" stroke="#1c1c1c" stroke-width="1.2"/>
<rect x="726.5" y="555.8" width="8.1" height="4" rx="0" fill="none" stroke="#1c1c1c" stroke-width="1.08"/>
<line x1="728.5" y1="556" x2="728.5" y2="559.5" stroke="#1c1c1c" stroke-width="0.96"/>
<line x1="732.5" y1="556" x2="732.5" y2="559.5" stroke="#1c1c1c" stroke-width="0.96"/>
<rect x="725.2" y="562" width="10.7" height="7" rx="0" fill="none" stroke="#1c1c1c" stroke-width="1.44"/>
<line x1="725.2" y1="564.5" x2="735.9" y2="564.5" stroke="#1c1c1c" stroke-width="1.08"/>
<line x1="725.2" y1="566.8" x2="735.9" y2="566.8" stroke="#1c1c1c" stroke-width="1.08"/>
<rect x="725.7" y="569" width="9.7" height="6" rx="0" fill="none" stroke="#1c1c1c" stroke-width="1.2"/>
<line x1="725.7" y1="572" x2="735.4" y2="572" stroke="#1c1c1c" stroke-width="0.96"/>
<rect x="727.2" y="575" width="6.7" height="5.2" rx="0" fill="none" stroke="#1c1c1c" stroke-width="1.2"/>
<rect x="728.7" y="577.5" width="3.7" height="0.7" rx="0" fill="none" stroke="#1c1c1c" stroke-width="0.96"/>
<rect x="718.95" y="580.2" width="23.2" height="11.5" rx="2" fill="none" stroke="#1c1c1c" stroke-width="1.44"/>
<line x1="724.55" y1="580.2" x2="724.55" y2="591.7" stroke="#1c1c1c" stroke-width="1.2"/>
<line x1="736.55" y1="580.2" x2="736.55" y2="591.7" stroke="#1c1c1c" stroke-width="1.2"/>
<line x1="891.2" y1="351.6" x2="891.2" y2="439.8" stroke="#505050" stroke-width="1.4"/>
<polygon points="891.2,351.6 889.2,359.6 893.2,359.6" fill="#111"/>
<polygon points="891.2,393.2 889.2,385.2 893.2,385.2" fill="#111"/>
<line x1="782.7" y1="393.4" x2="894.9" y2="393.4" stroke="#505050" stroke-width="1.4"/>
<text transform="translate(889.2,420.5) rotate(-90)" text-anchor="middle" font-size="11.5">40MAX</text>
</svg></body></html>
